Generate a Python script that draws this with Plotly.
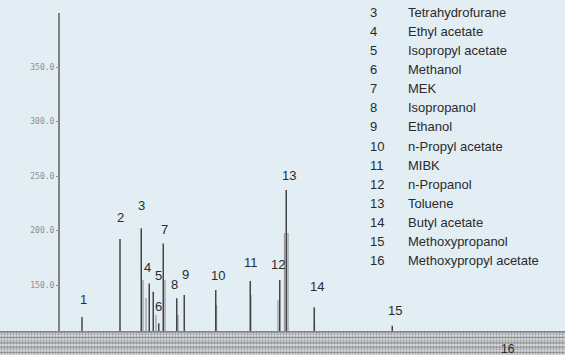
import plotly.graph_objects as go

# Peak numbers, retention time (min) and apex height (detector units)
peak_ids = ["1", "2", "3", "4", "5", "6", "7", "8", "9", "10", "11", "12", "13", "14", "15"]
peak_times = [0.92, 2.44, 3.29, 3.61, 3.77, 3.99, 4.17, 4.71, 5.01, 6.27, 7.65, 8.83, 9.09, 10.21, 13.33]
peak_heights = [120.6, 192.2, 202.0, 151.5, 143.9, 115.0, 188.2, 137.8, 140.8, 145.4, 153.7, 154.6, 237.2, 129.5, 112.7]

# lighter shoulder / co-eluting traces
shoulder_times = [3.36, 3.48, 3.88, 4.24, 4.76, 6.30, 7.68, 8.76, 9.02, 9.16, 10.22]
shoulder_heights = [154.6, 138.0, 122.5, 154.6, 122.5, 131.7, 140.8, 136.0, 197.7, 197.7, 116.0]

# solvent front drawn at t = 0
solvent_time = 0.0
solvent_height = 399.5

baseline = 106.5

compound_ids = ["3", "4", "5", "6", "7", "8", "9", "10", "11", "12", "13", "14", "15", "16"]
compound_names = ["Tetrahydrofurane", "Ethyl acetate", "Isopropyl acetate", "Methanol", "MEK",
                  "Isopropanol", "Ethanol", "n-Propyl acetate", "MIBK", "n-Propanol", "Toluene",
                  "Butyl acetate", "Methoxypropanol", "Methoxypropyl acetate"]

y_ticks = [150, 200, 250, 300, 350]
y_tick_labels = ["150.0", "200.0", "250.0", "300.0", "350.0"]

bg = "#e2edf4"
txt = "#2b2b2b"
font_fam = "Liberation Sans, Arial, sans-serif"


def segments(xs, ys, base):
    sx, sy = [], []
    for x, y in zip(xs, ys):
        sx += [x, x, None]
        sy += [base, y, None]
    return sx, sy


fig = go.Figure()

# shoulders (light grey)
sx, sy = segments(shoulder_times, shoulder_heights, baseline)
fig.add_trace(go.Scatter(x=sx, y=sy, mode="lines", line=dict(color="#9a9ea0", width=1.3),
                         hoverinfo="skip", showlegend=False))

# main peaks
sx, sy = segments(peak_times, peak_heights, baseline)
fig.add_trace(go.Scatter(x=sx, y=sy, mode="lines", line=dict(color="#3a3a3a", width=1.4),
                         hoverinfo="skip", showlegend=False))

# solvent / axis line
fig.add_trace(go.Scatter(x=[solvent_time, solvent_time], y=[baseline, solvent_height], mode="lines",
                         line=dict(color="#4a4a4a", width=1.3), hoverinfo="skip", showlegend=False))

# noisy baseline band (scan texture)
x_lo, x_hi = -2.36, 20.24
fig.add_trace(go.Scatter(x=[x_lo, x_hi], y=[baseline + 0.8, baseline + 0.8], mode="lines",
                         line=dict(color="#8a8d8f", width=1.2), fill="tozeroy",
                         fillpattern=dict(shape="-", fgcolor="#74777a", bgcolor="#d6dadc",
                                          size=5, solidity=0.35),
                         hoverinfo="skip", showlegend=False))
fig.add_trace(go.Scatter(x=[x_lo, x_hi], y=[baseline + 0.8, baseline + 0.8], mode="lines",
                         line=dict(width=0), fill="tozeroy",
                         fillpattern=dict(shape=".", fgcolor="#5a5d60", bgcolor="rgba(0,0,0,0)",
                                          size=3, solidity=0.3),
                         hoverinfo="skip", showlegend=False))

# peak number labels (small offsets so they don't collide)
label_shift = {"1": (1, 8), "2": (0, 12), "3": (0, 13), "4": (-2, 6), "5": (5, 7), "6": (0, 7),
               "7": (1, 4), "8": (-2, 4), "9": (1, 11), "10": (2, 5), "11": (1, 9), "12": (-2, 6),
               "13": (3, 5), "14": (3, 11), "15": (3, 6)}
for pid, t, h in zip(peak_ids, peak_times, peak_heights):
    dx, dy = label_shift[pid]
    fig.add_annotation(x=t, y=h, text=pid, showarrow=False, xanchor="center", yanchor="bottom",
                       xshift=dx, yshift=dy, font=dict(family=font_fam, size=13, color=txt))
fig.add_annotation(x=17.96, y=baseline, text="16", showarrow=False, xanchor="center", yanchor="top",
                   yshift=-8, font=dict(family=font_fam, size=12, color=txt))

# compound list
row0, row_h = 12.3, 19.1
for i, (cid, name) in enumerate(zip(compound_ids, compound_names)):
    yy = 1 - (row0 + i * row_h) / 355
    fig.add_annotation(x=368 / 565, y=yy, xref="paper", yref="paper", text=cid, showarrow=False,
                       xanchor="left", yanchor="middle", font=dict(family=font_fam, size=13, color=txt))
    fig.add_annotation(x=406 / 565, y=yy, xref="paper", yref="paper", text=name, showarrow=False,
                       xanchor="left", yanchor="middle", font=dict(family=font_fam, size=13, color=txt))

fig.update_layout(
    width=565, height=355,
    margin=dict(l=0, r=0, t=0, b=0, autoexpand=False),
    paper_bgcolor=bg, plot_bgcolor=bg,
    xaxis=dict(range=[x_lo, x_hi], visible=False, fixedrange=True, automargin=False),
    yaxis=dict(range=[85.8, 411.5], anchor="free", position=59 / 565, side="left",
               automargin=False,
               tickvals=y_ticks, ticktext=y_tick_labels, ticks="outside", ticklen=3,
               tickcolor="#8a8a8a", showgrid=False, zeroline=False, showline=False,
               tickfont=dict(family="DejaVu Sans Mono, monospace", size=8, color="#8c8f91")),
    showlegend=False,
)

# drop the browser's default page margin so the figure sits at the window's corner
fig.write_html("out.html", config={"displayModeBar": False},
               post_script="document.body.style.margin='0';")
